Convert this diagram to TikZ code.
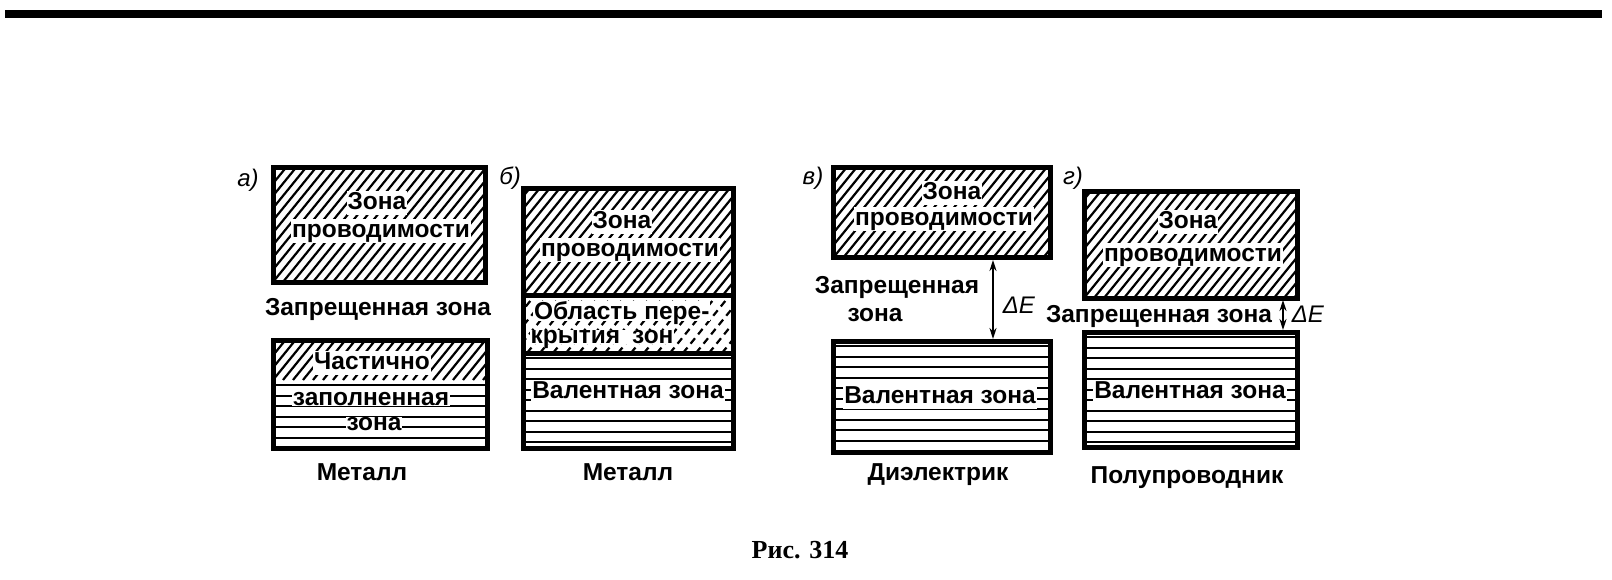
\documentclass[tikz,border=0pt]{standalone}
\usepackage{fontspec}
\setmainfont{Liberation Sans}
\newfontfamily\capfont{Liberation Serif}
\usetikzlibrary{fit,arrows.meta}
\tikzset{
  rg/.style={inner sep=0pt, outer sep=0pt},
  bandframe/.style={draw, line width=5pt, inner sep=0pt, outer sep=0pt},
  hatchline/.style={line width=2.2pt},
  hatchfill/.style={path picture={
     \foreach \k in {0,...,45}{
       \draw[hatchline] ([xshift=\k*10pt-160pt]path picture bounding box.south west) -- ++(130pt,160pt);}}},
  dashfill/.style={path picture={
     \foreach \k in {0,...,30}{
       \draw[hatchline, dash pattern=on 7pt off 5pt] ([xshift=\k*13pt-100pt]path picture bounding box.south west) -- ++(65pt,80pt);}}},
  linefill/.style={path picture={
     \foreach \k in {0,...,14}{
       \draw[line width=2pt] ([yshift=-\k*10.5pt-5pt]path picture bounding box.north west) -- ++(300pt,0pt);}}},
  lbl/.style={font=\bfseries\fontsize{24.5pt}{27pt}\selectfont, inner sep=0.8pt, text height=18pt, text depth=5pt},
  inl/.style={lbl, fill=white},
  lowtext/.style={text height=13.5pt, text depth=0pt, inner sep=0.5pt},
  letter/.style={font=\itshape\fontsize{24pt}{26pt}\selectfont, inner sep=0pt},
  gaparrow/.style={{Stealth[length=11pt,width=7pt]}-{Stealth[length=11pt,width=7pt]}, line width=2.5pt, shorten <=2pt, shorten >=2pt},
}
\begin{document}
\begin{tikzpicture}[x=1pt, y=-1pt]
\useasboundingbox (0,0) rectangle (1612,580);
% top rule
\fill (5,10) rectangle (1602,18);

% ---------- a) ----------
\node[letter] (la) at (248,180) {а)};
\node[rg, hatchfill, fit={(273,168)(485,282)}] (aCf) {};
\node[inl] (aC1) at (377,203) {Зона};
\node[inl] (aC2) at (381,231) {проводимости};
\node[bandframe, fit={(273,168)(485,282)}] (aC) {};
\node[lbl] (aG) at (378,309) {Запрещенная зона};
\node[rg, hatchfill, fit={(273,340)(487,380)}] (aPf) {};
\node[rg, linefill, fit={(273,380)(487,448)}] (aVf) {};
\node[inl] (aP1) at (372,363) {Частично};
\node[inl, lowtext] (aP2) at (371,399) {заполненная};
\node[inl, lowtext] (aP3) at (374,424) {зона};
\node[bandframe, fit={(273,340)(487,448)}] (aV) {};
\node[lbl] (aM) at (362,474) {Металл};

% ---------- b) ----------
\node[letter] (lb) at (510,178) {б)};
\node[rg, hatchfill, fit={(523,189)(733,295)}] (bCf) {};
\node[rg, dashfill, fit={(523,295)(733,353)}] (bOf) {};
\node[rg, linefill, fit={(523,353)(733,448)}] (bVf) {};
\node[inl] (bC1) at (622,222) {Зона};
\node[inl] (bC2) at (630,250) {проводимости};
\node[inl, anchor=west, text depth=1pt] (bO1) at (533,311) {Область пере-};
\node[inl, lowtext, anchor=west] (bO2) at (530,337) {крытия\hspace{12pt}зон};
\node[inl] (bV1) at (628,392) {Валентная зона};
\node[bandframe, fit={(523,189)(733,295)}] (bC) {};
\node[bandframe, fit={(523,295)(733,353)}] (bO) {};
\node[bandframe, fit={(523,353)(733,448)}] (bV) {};
\node[lbl] (bM) at (628,474) {Металл};

% ---------- v) ----------
\node[letter] (lv) at (813,178) {в)};
\node[rg, hatchfill, fit={(833,168)(1050,258)}] (vCf) {};
\node[rg, linefill, fit={(833,341)(1050,452)}] (vVf) {};
\node[inl] (vC1) at (952,193) {Зона};
\node[inl] (vC2) at (944,219) {проводимости};
\node[inl] (vV1) at (940,397) {Валентная зона};
\node[bandframe, fit={(833,168)(1050,258)}] (vC) {};
\node[bandframe, fit={(833,341)(1050,452)}] (vV) {};
\node[lbl] (vG1) at (897,287) {Запрещенная};
\node[lbl] (vG2) at (875,315) {зона};
\coordinate (vx) at (993,300);
\draw[gaparrow] (vC.south -| vx) -- (vV.north -| vx);
\node[lbl, font=\fontsize{24pt}{26pt}\selectfont] (vE) at (1019,307) {\textit{ΔE}};
\node[lbl] (vM) at (938,474) {Диэлектрик};

% ---------- g) ----------
\node[letter] (lg) at (1073,178) {г)};
\node[rg, hatchfill, fit={(1084,192)(1297,298)}] (gCf) {};
\node[rg, linefill, fit={(1084,332)(1297,447)}] (gVf) {};
\node[inl] (gC1) at (1188,222) {Зона};
\node[inl] (gC2) at (1193,255) {проводимости};
\node[inl] (gV1) at (1190,392) {Валентная зона};
\node[bandframe, fit={(1084,192)(1297,298)}] (gC) {};
\node[bandframe, fit={(1084,332)(1297,447)}] (gV) {};
\node[lbl, text depth=3pt, inner sep=0pt] (gG) at (1159,315) {Запрещенная зона};
\coordinate (gx) at (1283,315);
\draw[gaparrow] (gC.south -| gx) -- (gV.north -| gx);
\node[lbl, font=\fontsize{24pt}{26pt}\selectfont] (gE) at (1308,316) {\textit{ΔE}};
\node[lbl] (gM) at (1187,477) {Полупроводник};

% caption
\node[font=\capfont\bfseries\fontsize{26pt}{28pt}\selectfont, inner sep=0pt] (cap) at (800,550) {Рис. 314};
\end{tikzpicture}
\end{document}
